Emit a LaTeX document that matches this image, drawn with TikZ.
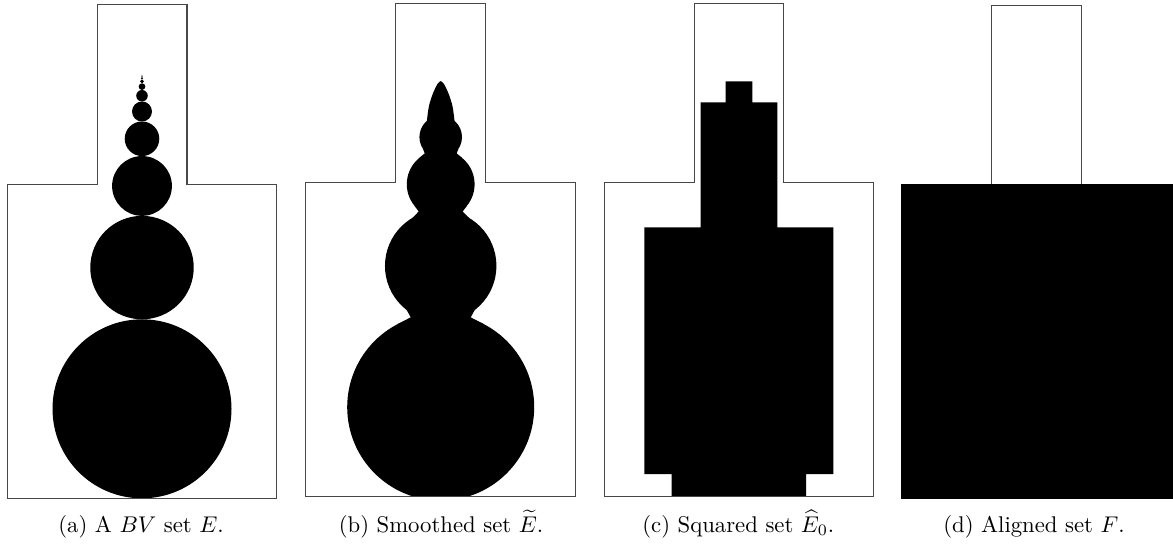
\documentclass[tikz,border=0pt]{standalone}
\begin{document}
\begin{tikzpicture}[x=0.44pt,y=-0.44pt,
  frame/.style={draw=black!72,line width=0.45pt},
  setfill/.style={fill=black,draw=none},
  captxt/.style={anchor=base,inner sep=0pt,font=\normalsize}]
\useasboundingbox (0,0) rectangle (1173,545);

% ---------- (a) ----------
\foreach \cy/\r in {408.8/89.5,267.57/51.73,185.94/29.90,138.76/17.28,111.49/9.99,
  95.73/5.77,86.62/3.34,81.35/1.93,78.31/1.115,76.55/0.644,75.53/0.372,74.94/0.215}
  {\fill[setfill] (142,\cy) circle[radius=\r];}
\draw[frame] (7.3,498.3) -- (7.3,184) -- (97.3,184) -- (97.3,4.7) -- (187,4.7)
  -- (187,184) -- (276.7,184) -- (276.7,498.3) -- cycle;
\node[captxt] (capA) at (141,532) {(a) A $BV$ set $E$.};

% ---------- (b) ----------
\begin{scope}
\clip (305.3,496.7) -- (305.3,182.3) -- (395.7,182.3) -- (395.7,3) -- (485.3,3)
  -- (485.3,182.3) -- (575.3,182.3) -- (575.3,496.7) -- cycle;
\fill[setfill] (440.7,407.1) circle[radius=93.5];
\fill[setfill] (440.7,265.87) circle[radius=55.73];
\fill[setfill] (440.7,184.24) circle[radius=33.9];
\fill[setfill] (440.7,137.06) circle[radius=21.28];
\fill[setfill] (406.7,310) -- (410.7,317.3) -- (397.9,324) -- (483.5,324) -- (470.7,317.3) -- (474.7,310) -- cycle;
\fill[setfill] (414.7,206) -- (418.7,211.5) -- (412.3,218) -- (469.1,218) -- (462.7,211.5) -- (466.7,206) -- cycle;
\fill[setfill] (423.1,149) -- (424.7,153.4) -- (419.2,158) -- (462.2,158) -- (456.7,153.4) -- (458.3,149) -- cycle;
\fill[setfill] plot[smooth,tension=0.6] coordinates {(426.2,126) (427.1,119) (427.7,114) (428.4,109)
  (429.7,103) (431.4,97.6) (433.5,92) (435.7,87.2) (438.1,83.2) (440.7,81.2)
  (443.3,83.2) (445.7,87.2) (447.9,92) (450,97.6) (451.7,103) (453,109) (453.7,114)
  (454.3,119) (455.2,126)} -- cycle;
\end{scope}
\draw[frame] (305.3,496.7) -- (305.3,182.3) -- (395.7,182.3) -- (395.7,3) -- (485.3,3)
  -- (485.3,182.3) -- (575.3,182.3) -- (575.3,496.7) -- cycle;
\node[captxt] (capB) at (441,532) {(b) Smoothed set $\widetilde{E}$.};

% ---------- (c) ----------
\fill[setfill] (725.7,81.3) -- (752.3,81.3) -- (752.3,102.3) -- (777.3,102.3) -- (777.3,227.3)
  -- (833.3,227.3) -- (833.3,474) -- (806,474) -- (806,496.7) -- (671.7,496.7) -- (671.7,474)
  -- (644.3,474) -- (644.3,227.3) -- (700.7,227.3) -- (700.7,102.3) -- (725.7,102.3) -- cycle;
\draw[frame] (604,496.7) -- (604,182.3) -- (694,182.3) -- (694,3) -- (783.7,3)
  -- (783.7,182.3) -- (873.3,182.3) -- (873.3,496.7) -- cycle;
\node[captxt] (capC) at (738.3,532) {(c) Squared set $\widehat{E}_0$.};

% ---------- (d) ----------
\draw[frame] (991.3,184) -- (991.3,5) -- (1081.3,5) -- (1081.3,184);
\fill[setfill] (901,184) rectangle (1173,499);
\node[captxt] (capD) at (1034,532) {(d) Aligned set $F$.};
\end{tikzpicture}
\end{document}
